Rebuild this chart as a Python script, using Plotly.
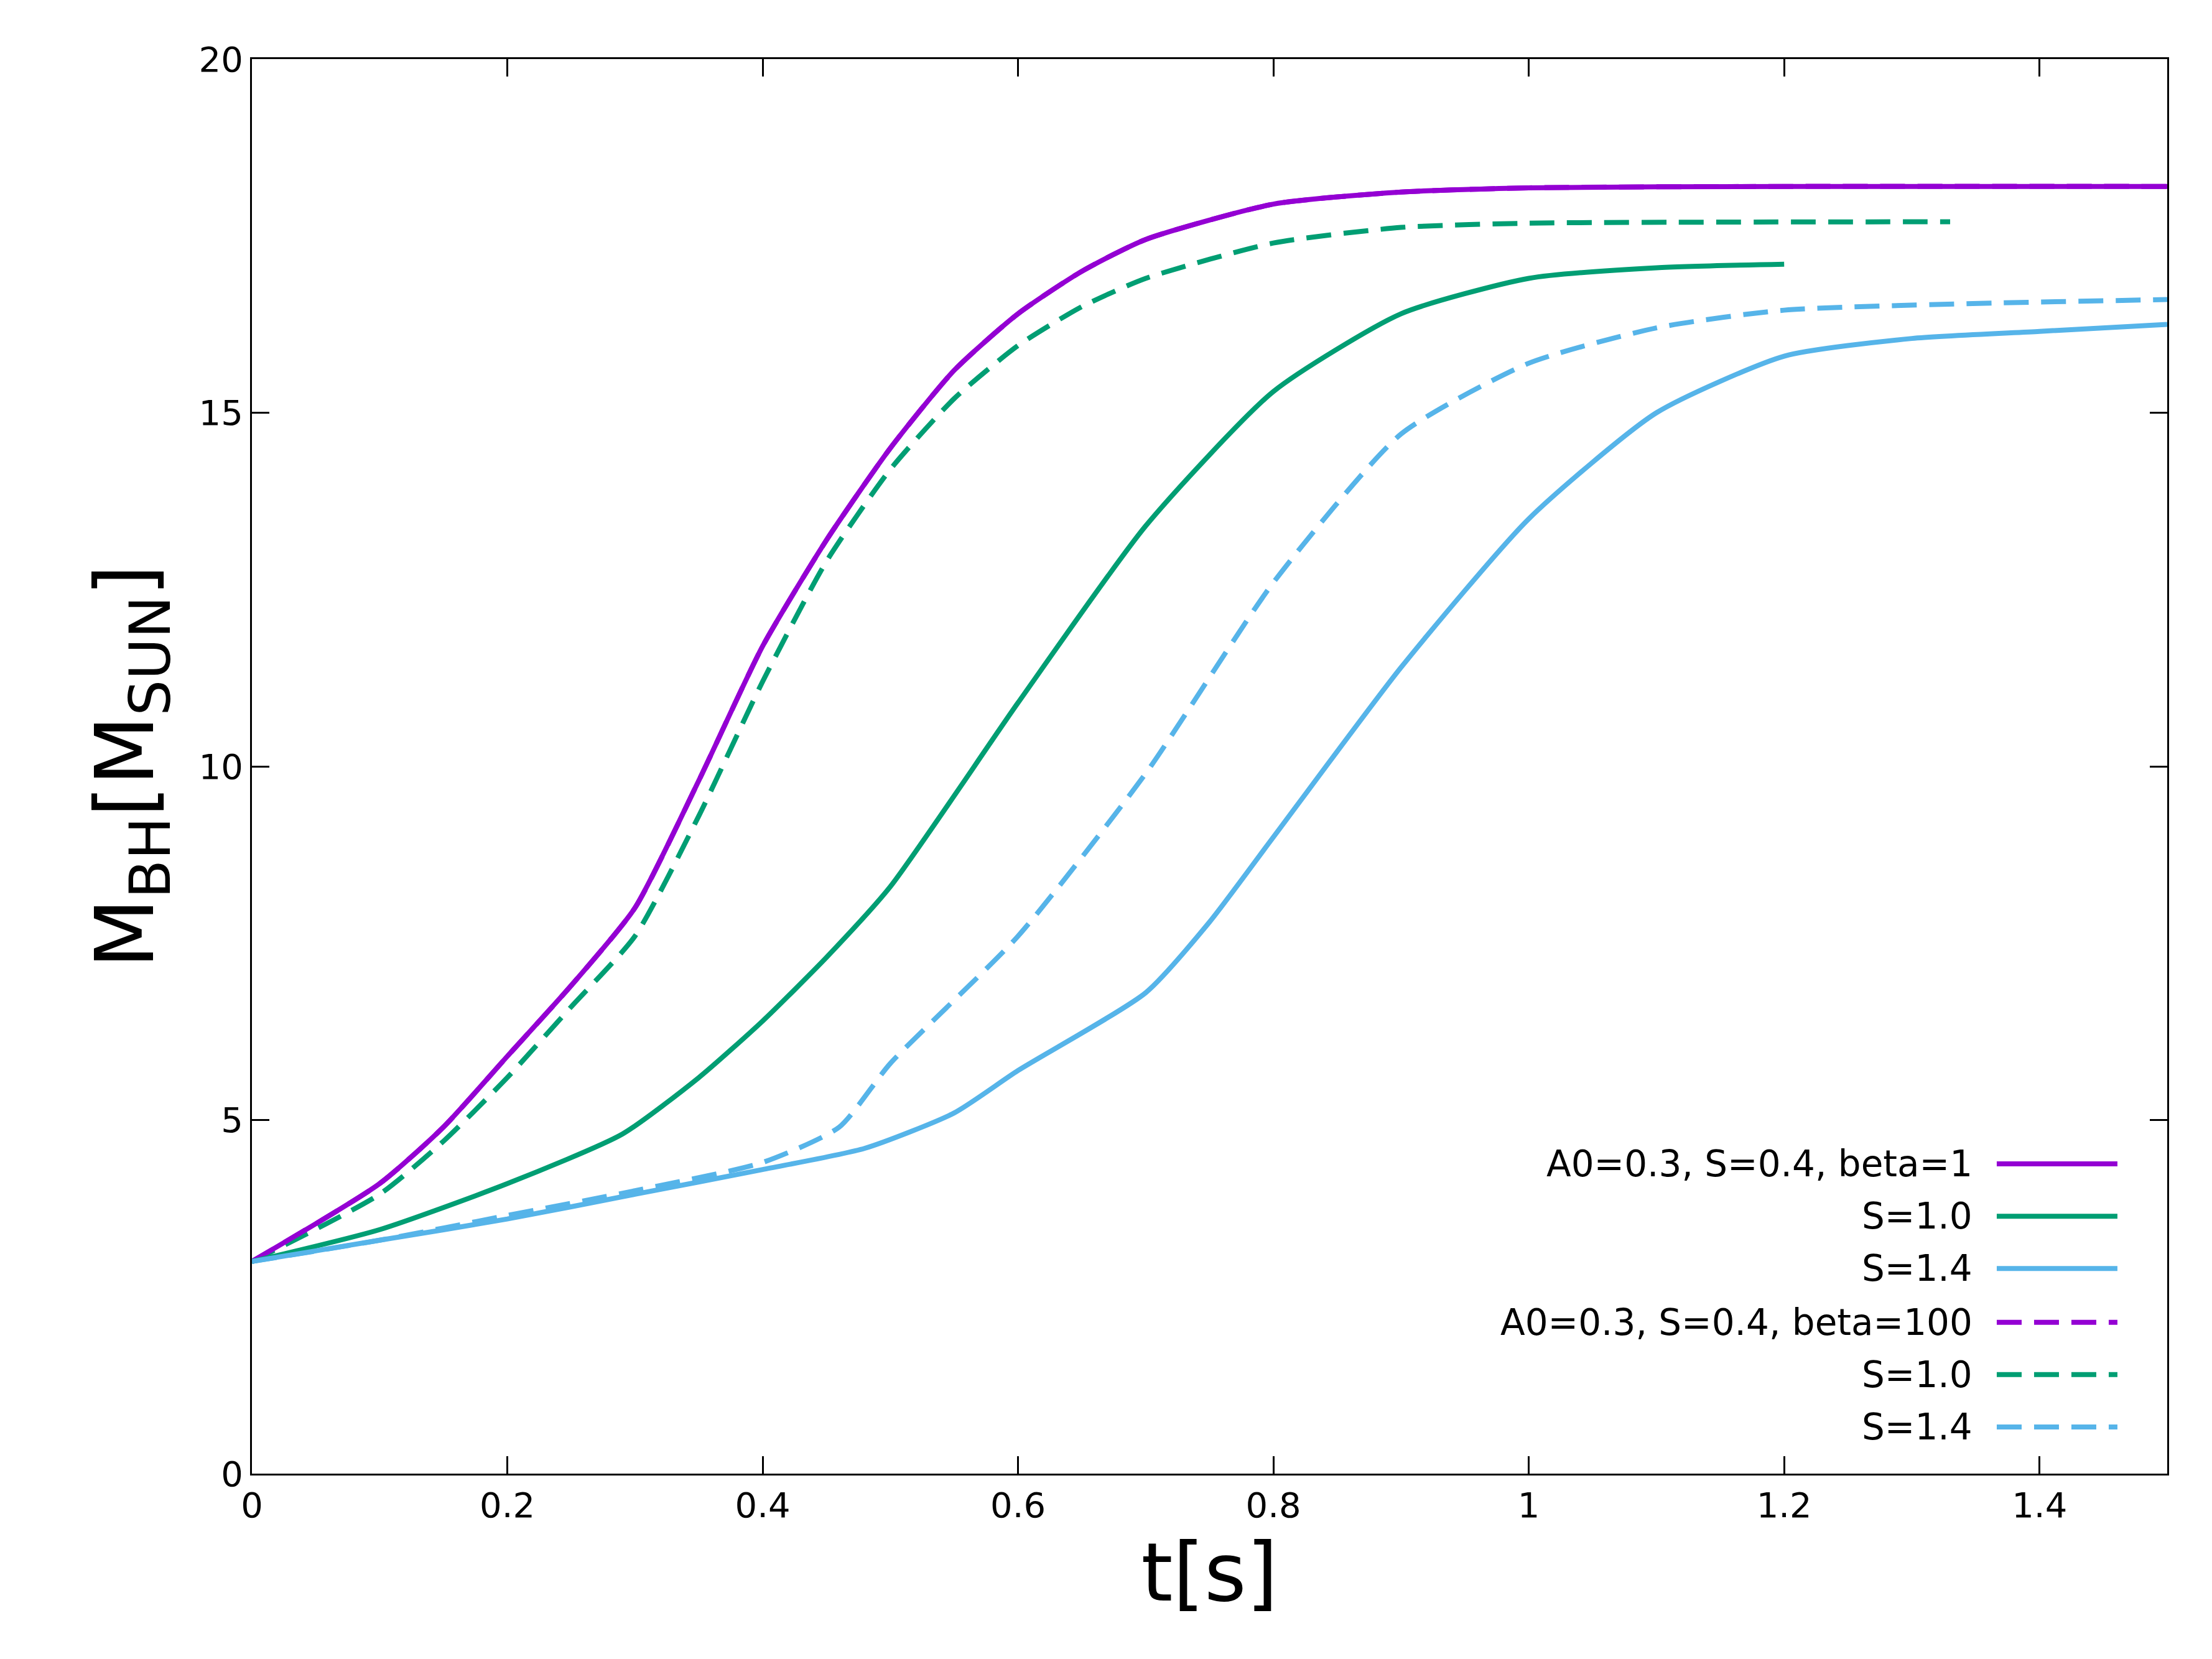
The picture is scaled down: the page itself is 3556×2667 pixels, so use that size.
import plotly.graph_objects as go

t_p = [0, 0.1, 0.15, 0.2, 0.25, 0.3, 0.35, 0.4, 0.45, 0.5, 0.55, 0.6, 0.65, 0.7, 0.8, 0.9, 1.0, 1.2, 1.5]
m_p = [3, 4.1, 4.9, 5.9, 6.9, 8.0, 9.8, 11.7, 13.2, 14.5, 15.6, 16.4, 17.0, 17.45, 17.95, 18.12, 18.18, 18.2, 18.2]
t_gd = [0, 0.1, 0.15, 0.2, 0.25, 0.3, 0.35, 0.4, 0.45, 0.5, 0.55, 0.6, 0.65, 0.7, 0.8, 0.9, 1.0, 1.33]
m_gd = [3, 3.95, 4.7, 5.6, 6.6, 7.6, 9.3, 11.2, 12.9, 14.2, 15.2, 15.95, 16.5, 16.9, 17.4, 17.62, 17.68, 17.7]
t_g = [0, 0.1, 0.2, 0.29, 0.35, 0.4, 0.45, 0.5, 0.6, 0.7, 0.8, 0.9, 1.0, 1.1, 1.2]
m_g = [3, 3.45, 4.1, 4.8, 5.6, 6.4, 7.3, 8.3, 10.9, 13.4, 15.3, 16.4, 16.9, 17.05, 17.1]
t_bd = [0, 0.1, 0.2, 0.3, 0.4, 0.46, 0.5, 0.6, 0.7, 0.8, 0.9, 1.0, 1.1, 1.2, 1.5]
m_bd = [3, 3.3, 3.65, 4.0, 4.4, 4.9, 5.8, 7.6, 9.9, 12.6, 14.7, 15.7, 16.2, 16.45, 16.6]
t_b = [0, 0.1, 0.2, 0.3, 0.4, 0.48, 0.55, 0.6, 0.7, 0.75, 0.8, 0.9, 1.0, 1.1, 1.2, 1.3, 1.4, 1.5]
m_b = [3, 3.3, 3.6, 3.95, 4.3, 4.6, 5.1, 5.7, 6.8, 7.8, 9.0, 11.4, 13.5, 15.0, 15.8, 16.05, 16.15, 16.25]

PURPLE, GREEN, BLUE = "#9400D3", "#009E73", "#56B4E9"
DASH = "40px,20px"
labels = ["A0=0.3, S=0.4, beta=1", "S=1.0", "S=1.4", "A0=0.3, S=0.4, beta=100", "S=1.0", "S=1.4"]
series = [(t_p, m_p, PURPLE, "solid"), (t_g, m_g, GREEN, "solid"), (t_b, m_b, BLUE, "solid"),
          (t_p, m_p, PURPLE, DASH), (t_gd, m_gd, GREEN, DASH), (t_bd, m_bd, BLUE, DASH)]

fig = go.Figure()
for i in [3, 4, 5, 0, 1, 2]:
    x, y, c, d = series[i]
    fig.add_trace(go.Scatter(x=x, y=y, mode="lines",
                             line=dict(color=c, width=8, dash=d, shape="spline", smoothing=0.6),
                             showlegend=False))

rows = [0.219, 0.182, 0.145, 0.107, 0.070, 0.033]
for i, (lab, yy) in enumerate(zip(labels, rows)):
    c, d = series[i][2], series[i][3]
    fig.add_annotation(xref="paper", yref="paper", x=0.899, y=yy, text=lab, showarrow=False,
                       xanchor="right", yanchor="middle", font=dict(size=58, color="black"))
    fig.add_shape(type="line", xref="paper", yref="paper", x0=0.911, x1=0.974, y0=yy, y1=yy,
                  line=dict(color=c, width=8, dash=d))

ax = dict(showline=True, linecolor="black", linewidth=3, mirror="ticks", ticks="inside", ticklen=28,
          tickwidth=3, tickcolor="black", showgrid=False, zeroline=False,
          tickfont=dict(size=56, color="black"))
fig.update_xaxes(range=[0, 1.5], dtick=0.2, title=dict(text="t[s]", font=dict(size=130), standoff=20), **ax)
fig.update_yaxes(range=[0, 20], dtick=5,
                 title=dict(text="M<sub>BH</sub>[M<sub>SUN</sub>]", font=dict(size=130), standoff=30), **ax)
fig.update_layout(width=3556, height=2667, plot_bgcolor="white", paper_bgcolor="white",
                  font=dict(family="DejaVu Sans", color="black"),
                  margin=dict(l=397, r=80, t=87, b=306))
fig.write_html("out.html")
